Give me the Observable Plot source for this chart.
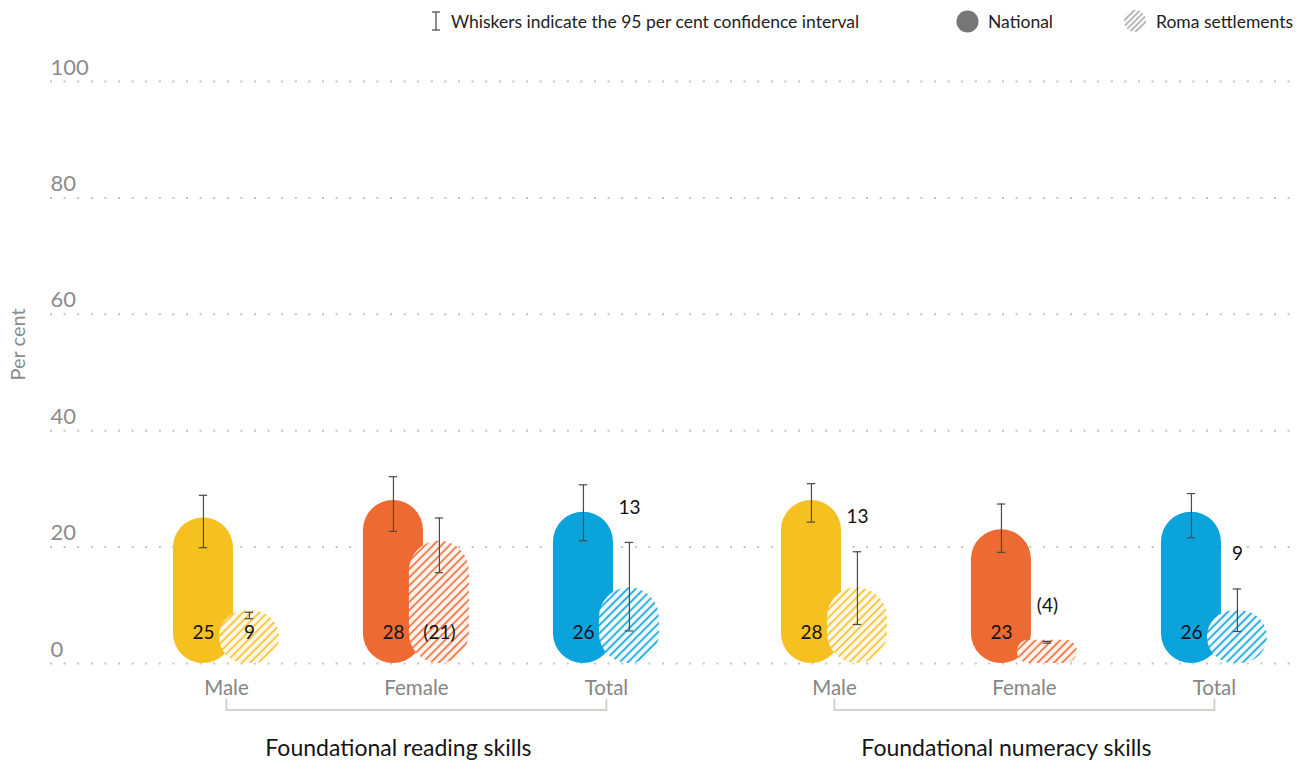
<!DOCTYPE html>
<html><head><meta charset="utf-8">
<script src="https://cdn.jsdelivr.net/npm/d3@7"></script>
<script src="https://cdn.jsdelivr.net/npm/@observablehq/plot@0.6"></script>
<style>
body{margin:0;background:#fff;font-family:Lato,"Open Sans",sans-serif;}
#legend{position:relative;height:42px;width:1315px;font-size:17.5px;color:#222;}
.item{position:absolute;top:0;height:42px;display:flex;align-items:center;white-space:nowrap;}
.item svg{margin-right:9px;}
</style></head><body>
<div id="legend">
  <div class="item" style="left:430px"><svg width="12" height="22"><line x1="6" x2="6" y1="2" y2="20" stroke="#444" stroke-width="1.2"/><line x1="2" x2="10" y1="2" y2="2" stroke="#444" stroke-width="1.2"/><line x1="2" x2="10" y1="20" y2="20" stroke="#444" stroke-width="1.2"/></svg>Whiskers indicate the 95 per cent confidence interval</div>
  <div class="item" style="left:956px"><svg width="23" height="23"><circle cx="11.5" cy="11.5" r="11" fill="#767676"/></svg>National</div>
  <div class="item" style="left:1123px"><svg width="24" height="24"><defs><pattern id="lg" patternUnits="userSpaceOnUse" width="4" height="4" patternTransform="rotate(45)"><line x1="1" x2="1" y1="0" y2="4" stroke="#7a7a7a" stroke-width="1.1"/></pattern></defs><circle cx="12" cy="12" r="11" fill="url(#lg)"/></svg>Roma settlements</div>
</div>
<div id="chart"></div>
<script>
// ---- data ----
const skills = ["Foundational reading skills", "Foundational numeracy skills"];
const sexes = ["Male", "Female", "Total"];
const nationalValue = [25, 28, 26, 28, 23, 26];
const nationalLow   = [19.9, 22.7, 21.1, 24.3, 19.1, 21.6];
const nationalHigh  = [28.9, 32.1, 30.7, 30.9, 27.4, 29.2];
const romaValue     = [9, 21, 13, 13, 4, 9];
const romaLow       = [7.7, 15.6, 5.6, 6.7, 3.5, 5.5];
const romaHigh      = [8.8, 25.0, 20.8, 19.2, 3.8, 12.8];
const romaParenthesised = [false, true, false, false, true, false];
const romaLabelAbove    = [false, false, true, true, true, true];
const yTicks = [0, 20, 40, 60, 80, 100];

// ---- styles ----
const colors = {Male: "#F6C021", Female: "#EE6A33", Total: "#0AA3DB"};
const tints  = {Male: "#FFF8EA", Female: "#FFF3EE", Total: "#EEF8FD"};
const groupGap = 3.2;    // category slots from one skill group to the next
const barHalf = 0.158;   // half bar width, in category slots
const pairOff = 0.121;   // offset of each bar from the category centre
const capHalf = 0.022;

const rows = nationalValue.map((v, i) => {
  const g = Math.floor(i / 3), c = i % 3;
  return {
    skill: skills[g], sex: sexes[c], pos: c + g * groupGap,
    nat: v, natLo: nationalLow[i], natHi: nationalHigh[i],
    roma: romaValue[i], romaLo: romaLow[i], romaHi: romaHigh[i],
    romaText: romaParenthesised[i] ? `(${romaValue[i]})` : `${romaValue[i]}`,
    above: romaLabelAbove[i]
  };
});
const groupRows = skills.map((s, g) => {
  const r = rows.filter(d => d.skill === s);
  return {skill: s, first: r[0].pos, last: r[r.length - 1].pos, mid: (r[0].pos + r[r.length - 1].pos) / 2};
});
const bracket = groupRows.flatMap(g => [
  {skill: g.skill, x: g.first, y: -6.2}, {skill: g.skill, x: g.first, y: -8.0},
  {skill: g.skill, x: g.last, y: -8.0}, {skill: g.skill, x: g.last, y: -6.2}
]);

const defs = () => {
  const d = d3.create("svg:defs");
  for (const s of sexes) {
    const p = d.append("pattern").attr("id", "hatch-" + s)
      .attr("patternUnits", "userSpaceOnUse").attr("width", 5.8).attr("height", 5.8)
      .attr("patternTransform", "rotate(45)");
    p.append("rect").attr("width", 5.8).attr("height", 5.8).attr("fill", tints[s]);
    p.append("line").attr("x1", 1).attr("x2", 1).attr("y1", 0).attr("y2", 5.8)
      .attr("stroke", colors[s]).attr("stroke-width", 1.6);
  }
  return d.node();
};

const font = "Lato, 'Open Sans', sans-serif";
const chart = Plot.plot({
  width: 1315, height: 721,
  marginTop: 39, marginBottom: 100, marginLeft: 50, marginRight: 15,
  style: {fontFamily: font, background: "white"},
  x: {domain: [-0.926, 5.653], axis: null},
  y: {domain: [0, 100], axis: null},
  color: {type: "identity"},
  marks: [
    defs,
    Plot.ruleY(yTicks, {y: d => d, stroke: "#c4c4c4", strokeWidth: 2, strokeDasharray: "2 11.6"}),
    Plot.text(yTicks, {y: d => d, text: d => String(d), frameAnchor: "left", textAnchor: "start", dy: -14, fontSize: 22, fill: "#8c8c8c"}),
    Plot.text(["Per cent"], {frameAnchor: "left", rotate: -90, dx: -32, dy: 8, fontSize: 20, fill: "#8a8a8a"}),
    Plot.rect(rows, {x1: d => d.pos - pairOff - barHalf, x2: d => d.pos - pairOff + barHalf, y1: 0, y2: "nat",
      fill: d => colors[d.sex], rx: 30, ry: 30, className: "capsule"}),
    Plot.rect(rows, {x1: d => d.pos + pairOff - barHalf, x2: d => d.pos + pairOff + barHalf, y1: 0, y2: "roma",
      fill: d => `url(#hatch-${d.sex})`, rx: 30, ry: 30, className: "capsule"}),
    Plot.ruleX(rows, {x: d => d.pos - pairOff, y1: "natLo", y2: "natHi", stroke: "#4a4a4a", strokeWidth: 1.2}),
    Plot.ruleY(rows, {y: "natLo", x1: d => d.pos - pairOff - capHalf, x2: d => d.pos - pairOff + capHalf, stroke: "#4a4a4a", strokeWidth: 1.2}),
    Plot.ruleY(rows, {y: "natHi", x1: d => d.pos - pairOff - capHalf, x2: d => d.pos - pairOff + capHalf, stroke: "#4a4a4a", strokeWidth: 1.2}),
    Plot.ruleX(rows, {x: d => d.pos + pairOff, y1: "romaLo", y2: "romaHi", stroke: "#4a4a4a", strokeWidth: 1.2}),
    Plot.ruleY(rows, {y: "romaLo", x1: d => d.pos + pairOff - capHalf, x2: d => d.pos + pairOff + capHalf, stroke: "#4a4a4a", strokeWidth: 1.2}),
    Plot.ruleY(rows, {y: "romaHi", x1: d => d.pos + pairOff - capHalf, x2: d => d.pos + pairOff + capHalf, stroke: "#4a4a4a", strokeWidth: 1.2}),
    Plot.text(rows, {x: d => d.pos - pairOff, y: 0, dy: -31, text: d => String(d.nat), fontSize: 19, fill: "#111"}),
    Plot.text(rows.filter(d => !d.above), {x: d => d.pos + pairOff, y: 0, dy: -31, text: "romaText", fontSize: 19, fill: "#111"}),
    Plot.text(rows.filter(d => d.above), {x: d => d.pos + pairOff, y: "romaHi", dy: -35, text: "romaText", fontSize: 19, fill: "#111"}),
    Plot.text(rows, {x: "pos", y: 0, dy: 25, text: "sex", fontSize: 20.5, fill: "#858585"}),
    Plot.line(bracket, {x: "x", y: "y", z: "skill", stroke: "#d6d1cc", strokeWidth: 2}),
    Plot.text(groupRows, {x: "mid", y: 0, dx: -18, dy: 85, text: "skill", fontSize: 23, fill: "#151515"})
  ]
});
d3.select(chart).selectAll("g.capsule rect").each(function () {
  const h = +this.getAttribute("height"), w = +this.getAttribute("width");
  const r = Math.min(w / 2, h / 2);
  this.setAttribute("rx", r); this.setAttribute("ry", r);
});
document.getElementById("chart").appendChild(chart);
</script>
</body></html>
